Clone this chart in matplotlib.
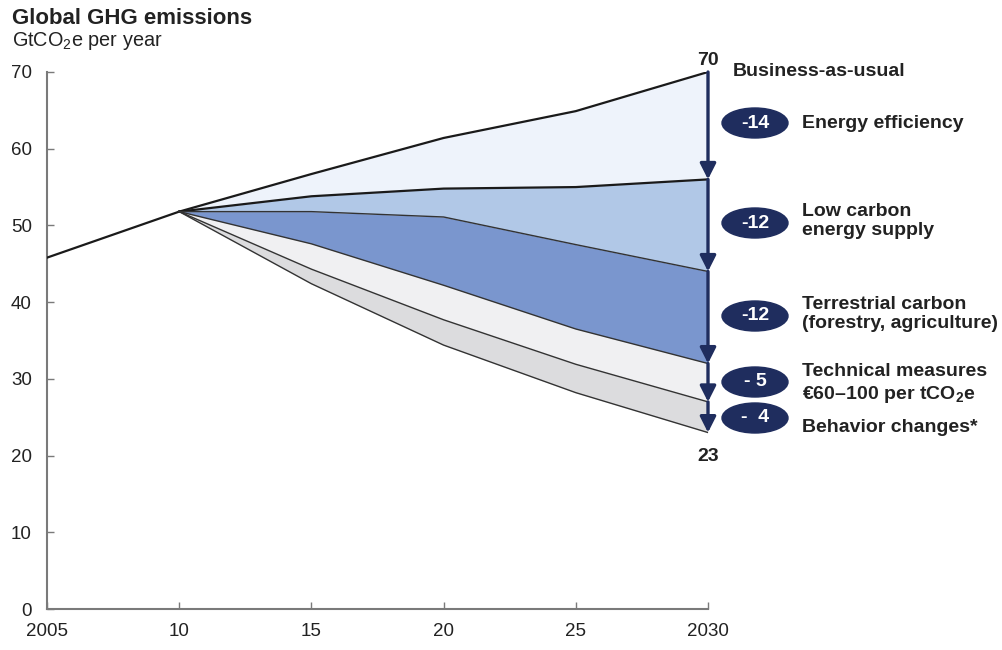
import matplotlib
matplotlib.use("Agg")
import matplotlib.pyplot as plt
from matplotlib.patches import Ellipse

plt.rcParams["font.family"] = ["Liberation Sans", "DejaVu Sans"]
plt.rcParams["mathtext.fontset"] = "custom"
plt.rcParams["mathtext.rm"] = "Liberation Sans"
plt.rcParams["mathtext.bf"] = "Liberation Sans:bold"
plt.rcParams["mathtext.default"] = "regular"

# --- data -------------------------------------------------------------
hist_years = [2005, 2010]
hist_values = [45.8, 51.8]

years = [2010, 2015, 2020, 2025, 2030]
bau = [51.8, 56.7, 61.4, 64.9, 70]
after_efficiency = [51.8, 53.8, 54.8, 55.0, 56]
after_low_carbon = [51.8, 51.8, 51.1, 47.5, 44]
after_terrestrial = [51.8, 47.6, 42.2, 36.5, 32]
after_technical = [51.8, 44.3, 37.7, 31.9, 27]
after_behavior = [51.8, 42.4, 34.4, 28.2, 23]

lever_names = [
    "Energy efficiency",
    "Low carbon\nenergy supply",
    "Terrestrial carbon\n(forestry, agriculture)",
    "Technical measures\n€60–100 per tCO$_2$e",
    "Behavior changes*",
]
lever_badges = ["-14", "-12", "-12", "- 5", "-  4"]

x_ticks = [2005, 2010, 2015, 2020, 2025, 2030]
x_tick_labels = ["2005", "10", "15", "20", "25", "2030"]
y_ticks = [0, 10, 20, 30, 40, 50, 60, 70]

# --- styling ----------------------------------------------------------
W, H = 1003, 650
navy = "#1f2d5e"
fill_colors = ["#eef3fb", "#b1c8e7", "#7a96ce", "#f0f0f2", "#dcdcde"]
axis_gray = "#7a7a7a"
text_dark = "#222222"
label_size = 14

fig = plt.figure(figsize=(W / 100, H / 100), dpi=100)
ax = fig.add_axes([47 / W, 1 - 609 / H, (708 - 47) / W, (609 - 72) / H])
ax.set_xlim(2005, 2030)
ax.set_ylim(0, 70)

# stacked wedges between successive abatement scenarios
levels = [bau, after_efficiency, after_low_carbon, after_terrestrial,
          after_technical, after_behavior]
for upper, lower, color in zip(levels[:-1], levels[1:], fill_colors):
    ax.fill_between(years, lower, upper, color=color, lw=0, zorder=1)

# boundary lines
ax.plot(hist_years, hist_values, color="#1a1a1a", lw=1.6, zorder=3)
ax.plot(years, bau, color="#1a1a1a", lw=1.6, zorder=3)
ax.plot(years, after_efficiency, color="#1a1a1a", lw=1.6, zorder=3)
for series in levels[2:]:
    ax.plot(years, series, color="#333333", lw=1.0, zorder=3)

# downward arrows at 2030 for each lever
ends = [lv[-1] for lv in levels]
for top, bottom in zip(ends[:-1], ends[1:]):
    ax.annotate("", xy=(2030, bottom), xytext=(2030, top),
                arrowprops=dict(arrowstyle="-|>,head_length=0.95,head_width=0.48",
                                color=navy, lw=2.4, shrinkA=0, shrinkB=0),
                annotation_clip=False, zorder=5)

# axes styling
for side in ["top", "right"]:
    ax.spines[side].set_visible(False)
for side in ["left", "bottom"]:
    ax.spines[side].set_color(axis_gray)
    ax.spines[side].set_linewidth(1.5)
ax.set_xticks(x_ticks)
ax.set_xticklabels(x_tick_labels)
ax.set_yticks(y_ticks)
ax.tick_params(axis="both", direction="in", length=5, width=1,
               color=axis_gray, labelsize=13.5, labelcolor=text_dark)
ax.tick_params(axis="x", pad=10)
ax.tick_params(axis="y", pad=11)

# totals at the ends of the 2030 arrow
ax.annotate("70", xy=(2030, bau[-1]), xytext=(0, 2), textcoords="offset points",
            ha="center", va="bottom", fontsize=label_size, fontweight="bold",
            color=text_dark, annotation_clip=False)
ax.annotate("23", xy=(2030, after_behavior[-1]), xytext=(0, -11),
            textcoords="offset points", ha="center", va="top",
            fontsize=label_size, fontweight="bold", color=text_dark,
            annotation_clip=False)


def px(x, y):
    return x / W, 1 - y / H


# titles
fig.text(*px(12, 18), "Global GHG emissions", fontsize=16,
         fontweight="bold", color=text_dark, va="center")
fig.text(*px(12, 41), "GtCO$_2$e per year", fontsize=14.3,
         color=text_dark, va="center")

fig.text(*px(733, 71), "Business-as-usual", fontsize=label_size,
         fontweight="bold", color=text_dark, va="center")

badge_y = [123, 223, 316, 382, 418]
name_y = [123, 221, 314, 384, 428]
for name, badge, by, ny in zip(lever_names, lever_badges, badge_y, name_y):
    cx, cy = px(755, by)
    fig.patches.append(Ellipse((cx, cy), 66 / W, 30 / H, color=navy,
                               transform=fig.transFigure, zorder=4))
    fig.text(cx, cy, badge, ha="center", va="center", fontsize=label_size,
             fontweight="bold", color="white", zorder=5)
    fig.text(*px(802, ny), name, ha="left", va="center", fontsize=label_size,
             fontweight="bold", color=text_dark, linespacing=1.22)

fig.savefig("out.png", dpi=100)
